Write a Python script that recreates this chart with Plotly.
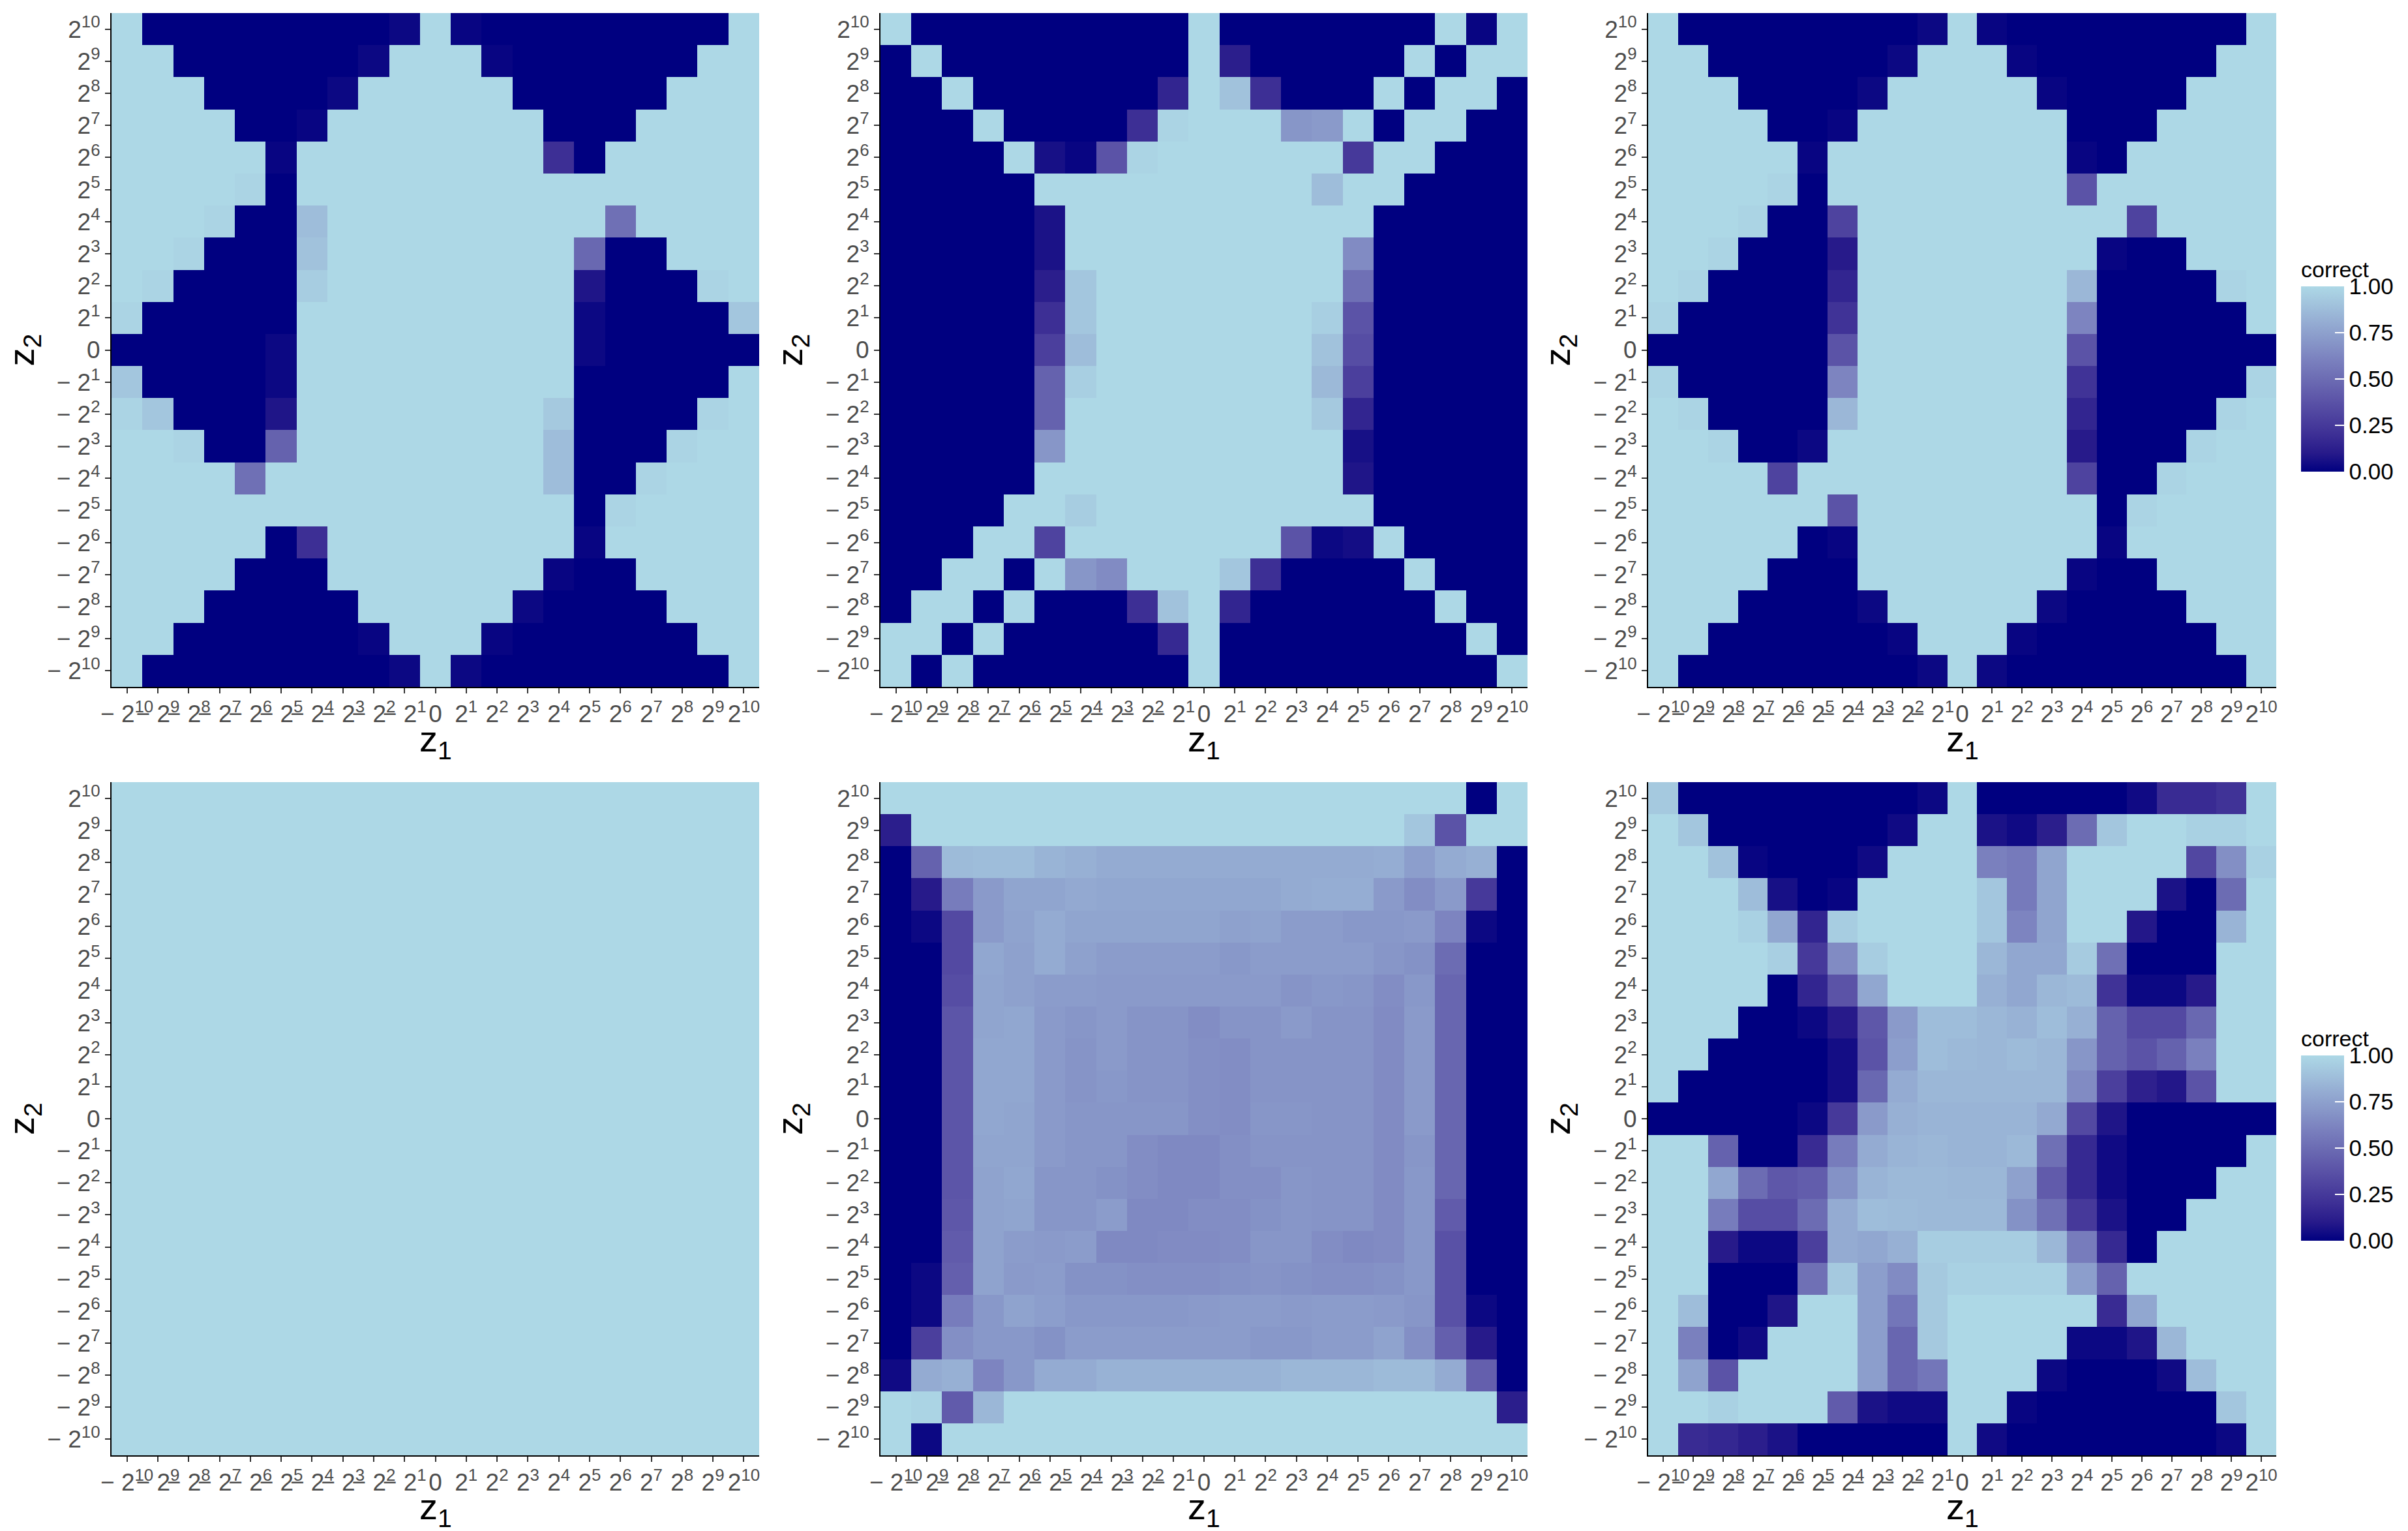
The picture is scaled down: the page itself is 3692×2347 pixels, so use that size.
import plotly.graph_objects as go

# ---------------- data ----------------
z1_index = list(range(-10, 11))          # columns: -2^10 ... 0 ... 2^10
z2_index = list(range(10, -11, -1))      # rows top->bottom: 2^10 ... 0 ... -2^10

def lab(n):
    if n < 0:
        return "\u2212 2<sup>%d</sup>" % (-n)
    if n == 0:
        return "0"
    return "2<sup>%d</sup>" % n

tick_labels = [lab(n) for n in z1_index]

panel_a = [
    [1,0,0,0,0,0,0,0,0,.03,1,.02,0,0,0,0,0,0,0,0,1],
    [1,1,0,0,0,0,0,0,.03,1,1,1,.02,0,0,0,0,0,0,1,1],
    [1,1,1,0,0,0,0,.03,1,1,1,1,1,0,0,0,0,0,1,1,1],
    [1,1,1,1,0,0,.02,1,1,1,1,1,1,1,0,0,0,1,1,1,1],
    [1,1,1,1,1,.02,1,1,1,1,1,1,1,1,.2,0,1,1,1,1,1],
    [1,1,1,1,.98,0,1,1,1,1,1,1,1,1,1,1,1,1,1,1,1],
    [1,1,1,.98,0,0,.88,1,1,1,1,1,1,1,1,1,.52,1,1,1,1],
    [1,1,.98,0,0,0,.9,1,1,1,1,1,1,1,1,.48,0,0,1,1,1],
    [1,.98,0,0,0,0,.95,1,1,1,1,1,1,1,1,.08,0,0,0,.98,1],
    [.98,0,0,0,0,0,1,1,1,1,1,1,1,1,1,.03,0,0,0,0,.92],
    [0,0,0,0,0,.03,1,1,1,1,1,1,1,1,1,.03,0,0,0,0,0],
    [.92,0,0,0,0,.03,1,1,1,1,1,1,1,1,1,0,0,0,0,0,1],
    [.98,.92,0,0,0,.08,1,1,1,1,1,1,1,1,.93,0,0,0,0,.98,1],
    [1,1,.98,0,0,.45,1,1,1,1,1,1,1,1,.88,0,0,0,.98,1,1],
    [1,1,1,1,.52,1,1,1,1,1,1,1,1,1,.88,0,0,.98,1,1,1],
    [1,1,1,1,1,1,1,1,1,1,1,1,1,1,1,0,.98,1,1,1,1],
    [1,1,1,1,1,0,.2,1,1,1,1,1,1,1,1,.02,1,1,1,1,1],
    [1,1,1,1,0,0,0,1,1,1,1,1,1,1,.02,0,0,1,1,1,1],
    [1,1,1,0,0,0,0,0,1,1,1,1,1,.03,0,0,0,0,1,1,1],
    [1,1,0,0,0,0,0,0,.02,1,1,1,.02,0,0,0,0,0,0,1,1],
    [1,0,0,0,0,0,0,0,0,.03,1,.03,0,0,0,0,0,0,0,0,1],
]

panel_b = [
    [1,0,0,0,0,0,0,0,0,0,1,0,0,0,0,0,0,0,1,.02,1],
    [0,1,0,0,0,0,0,0,0,0,1,.12,0,0,0,0,0,1,0,1,1],
    [0,0,1,0,0,0,0,0,0,.15,1,.9,.2,0,0,0,1,0,1,1,0],
    [0,0,0,1,0,0,0,0,.2,.98,1,1,1,.7,.72,1,0,1,1,0,0],
    [0,0,0,0,1,.06,.02,.38,.98,1,1,1,1,1,1,.25,1,1,0,0,0],
    [0,0,0,0,0,1,1,1,1,1,1,1,1,1,.88,1,1,0,0,0,0],
    [0,0,0,0,0,.07,1,1,1,1,1,1,1,1,1,1,0,0,0,0,0],
    [0,0,0,0,0,.07,1,1,1,1,1,1,1,1,1,.65,0,0,0,0,0],
    [0,0,0,0,0,.12,.92,1,1,1,1,1,1,1,1,.52,0,0,0,0,0],
    [0,0,0,0,0,.2,.92,1,1,1,1,1,1,1,.96,.38,0,0,0,0,0],
    [0,0,0,0,0,.28,.88,1,1,1,1,1,1,1,.9,.35,0,0,0,0,0],
    [0,0,0,0,0,.45,.96,1,1,1,1,1,1,1,.86,.28,0,0,0,0,0],
    [0,0,0,0,0,.45,1,1,1,1,1,1,1,1,.93,.15,0,0,0,0,0],
    [0,0,0,0,0,.7,1,1,1,1,1,1,1,1,1,.06,0,0,0,0,0],
    [0,0,0,0,0,1,1,1,1,1,1,1,1,1,1,.08,0,0,0,0,0],
    [0,0,0,0,1,1,.95,1,1,1,1,1,1,1,1,1,0,0,0,0,0],
    [0,0,0,1,1,.3,1,1,1,1,1,1,1,.38,.03,.05,1,0,0,0,0],
    [0,0,1,1,0,1,.7,.65,1,1,1,.92,.2,0,0,0,0,1,0,0,0],
    [0,1,1,0,1,0,0,0,.2,.9,1,.15,0,0,0,0,0,0,1,0,0],
    [1,1,0,1,0,0,0,0,0,.17,1,0,0,0,0,0,0,0,0,1,0],
    [1,0,1,0,0,0,0,0,0,0,1,0,0,0,0,0,0,0,0,0,1],
]

panel_c = [
    [1,0,0,0,0,0,0,0,0,.03,1,.02,0,0,0,0,0,0,0,0,1],
    [1,1,0,0,0,0,0,0,.03,1,1,1,.02,0,0,0,0,0,0,1,1],
    [1,1,1,0,0,0,0,.03,1,1,1,1,1,.02,0,0,0,0,1,1,1],
    [1,1,1,1,0,0,.02,1,1,1,1,1,1,1,0,0,0,1,1,1,1],
    [1,1,1,1,1,.02,1,1,1,1,1,1,1,1,.02,0,1,1,1,1,1],
    [1,1,1,1,.98,0,1,1,1,1,1,1,1,1,.38,1,1,1,1,1,1],
    [1,1,1,.98,0,0,.3,1,1,1,1,1,1,1,1,1,.3,1,1,1,1],
    [1,1,.98,0,0,0,.1,1,1,1,1,1,1,1,1,.02,0,0,1,1,1],
    [1,.98,0,0,0,0,.15,1,1,1,1,1,1,1,.85,0,0,0,0,.98,1],
    [.98,0,0,0,0,0,.22,1,1,1,1,1,1,1,.62,0,0,0,0,0,1],
    [0,0,0,0,0,0,.38,1,1,1,1,1,1,1,.38,0,0,0,0,0,0],
    [.98,0,0,0,0,0,.62,1,1,1,1,1,1,1,.22,0,0,0,0,0,.98],
    [1,.98,0,0,0,0,.85,1,1,1,1,1,1,1,.15,0,0,0,0,.98,1],
    [1,1,.98,0,0,.03,1,1,1,1,1,1,1,1,.1,0,0,0,.98,1,1],
    [1,1,1,1,.3,1,1,1,1,1,1,1,1,1,.3,0,0,.98,1,1,1],
    [1,1,1,1,1,1,.38,1,1,1,1,1,1,1,1,0,.98,1,1,1,1],
    [1,1,1,1,1,0,.02,1,1,1,1,1,1,1,1,.02,1,1,1,1,1],
    [1,1,1,1,0,0,0,1,1,1,1,1,1,1,.02,0,0,1,1,1,1],
    [1,1,1,0,0,0,0,.03,1,1,1,1,1,.03,0,0,0,0,1,1,1],
    [1,1,0,0,0,0,0,0,.02,1,1,1,.02,0,0,0,0,0,0,1,1],
    [1,0,0,0,0,0,0,0,0,.03,1,.03,0,0,0,0,0,0,0,0,1],
]

row_all_correct = [1,1,1,1,1,1,1,1,1,1,1,1,1,1,1,1,1,1,1,1,1]
panel_d = [row_all_correct for _ in z2_index]

panel_e = [
    [1,1,1,1,1,1,1,1,1,1,1,1,1,1,1,1,1,1,1,0,1],
    [.12,1,1,1,1,1,1,1,1,1,1,1,1,1,1,1,1,.92,.38,1,1],
    [0,.45,.87,.88,.88,.84,.82,.8,.8,.8,.8,.8,.8,.8,.8,.8,.81,.74,.8,.82,0],
    [0,.1,.58,.72,.77,.77,.79,.78,.78,.78,.78,.78,.78,.8,.81,.81,.72,.66,.72,.25,0],
    [0,.03,.33,.72,.76,.8,.77,.77,.77,.77,.77,.75,.76,.73,.73,.71,.71,.72,.62,.03,0],
    [0,0,.33,.78,.75,.8,.75,.73,.73,.73,.73,.71,.73,.73,.73,.73,.7,.68,.5,0,0],
    [0,0,.35,.77,.75,.73,.73,.72,.72,.72,.72,.72,.72,.69,.71,.7,.66,.71,.47,0,0],
    [0,0,.39,.77,.78,.72,.7,.72,.69,.69,.66,.69,.69,.72,.69,.69,.65,.72,.47,0,0],
    [0,0,.39,.78,.78,.72,.69,.72,.69,.69,.67,.66,.69,.69,.69,.69,.65,.72,.47,0,0],
    [0,0,.39,.78,.78,.72,.69,.71,.69,.69,.67,.66,.69,.69,.69,.69,.65,.72,.47,0,0],
    [0,0,.39,.78,.77,.72,.7,.7,.7,.7,.67,.66,.7,.7,.69,.69,.65,.72,.47,0,0],
    [0,0,.39,.77,.77,.72,.7,.7,.66,.64,.64,.67,.69,.69,.69,.69,.65,.7,.47,0,0],
    [0,0,.39,.76,.78,.7,.7,.68,.66,.64,.64,.67,.67,.7,.69,.69,.65,.71,.47,0,0],
    [0,0,.4,.76,.77,.7,.7,.73,.64,.64,.66,.66,.68,.7,.69,.69,.65,.71,.42,0,0],
    [0,0,.42,.76,.73,.72,.73,.64,.64,.65,.65,.66,.7,.7,.66,.64,.65,.71,.37,0,0],
    [0,.03,.44,.76,.72,.73,.68,.68,.67,.67,.67,.68,.69,.68,.67,.67,.68,.71,.37,0,0],
    [0,.03,.58,.71,.76,.74,.71,.71,.71,.71,.72,.73,.73,.72,.73,.73,.72,.7,.37,.03,0],
    [0,.28,.67,.71,.71,.68,.73,.73,.73,.73,.73,.73,.71,.71,.73,.73,.76,.67,.44,.1,0],
    [.04,.8,.82,.62,.71,.8,.8,.83,.83,.83,.83,.83,.83,.85,.85,.85,.87,.87,.8,.44,0],
    [1,.98,.42,.85,1,1,1,1,1,1,1,1,1,1,1,1,1,1,1,1,.12],
    [1,.03,1,1,1,1,1,1,1,1,1,1,1,1,1,1,1,1,1,1,1],
]

panel_f = [
    [.93,0,0,0,0,0,0,0,0,.03,1,0,0,0,0,0,.04,.18,.18,.22,1],
    [1,.92,0,0,0,0,0,0,.04,1,1,.07,.04,.12,.5,.92,1,1,.97,.97,1],
    [1,1,.9,.02,0,0,0,.04,1,1,1,.6,.57,.77,1,1,1,1,.32,.67,.97],
    [1,1,1,.88,.06,0,.02,1,1,1,1,.92,.57,.77,1,1,1,.07,0,.5,1],
    [1,1,1,.97,.78,.15,.95,1,1,1,1,.92,.62,.77,1,1,.09,0,0,.84,1],
    [1,1,1,1,.96,.25,.65,.95,1,1,1,.85,.78,.78,.94,.52,0,0,0,1,1],
    [1,1,1,1,0,.15,.38,.78,1,1,1,.82,.78,.85,.87,.22,.03,.03,.1,1,1],
    [1,1,1,0,0,.03,.1,.4,.72,.88,.88,.85,.83,.88,.82,.45,.33,.33,.48,1,1],
    [1,1,0,0,0,0,.05,.38,.74,.88,.86,.85,.87,.85,.7,.45,.38,.45,.6,1,1],
    [1,0,0,0,0,0,.05,.48,.8,.85,.85,.85,.85,.85,.65,.28,.13,.09,.38,1,1],
    [0,0,0,0,0,.03,.25,.72,.82,.84,.84,.84,.84,.79,.33,.08,0,0,0,0,0],
    [1,1,.45,0,0,.18,.58,.8,.84,.85,.84,.84,.86,.52,.17,.04,0,0,0,0,1],
    [1,1,.78,.5,.4,.43,.68,.84,.86,.86,.85,.85,.75,.42,.17,.04,0,0,0,1,1],
    [1,1,.58,.35,.35,.5,.8,.88,.87,.86,.86,.86,.68,.52,.25,.07,0,0,1,1,1],
    [1,1,.1,.03,.03,.28,.8,.78,.82,.95,.95,.95,.95,.85,.58,.17,0,1,1,1,1],
    [1,1,0,0,0,.52,.93,.74,.65,.93,.97,.97,.97,.97,.74,.45,1,1,1,1,1],
    [1,.88,0,0,.08,1,1,.74,.55,.93,1,1,1,1,1,.18,.78,1,1,1,1],
    [1,.6,0,.04,1,1,1,.74,.47,.93,1,1,1,1,.03,.03,.08,.85,1,1,1],
    [1,.76,.38,1,1,1,1,.74,.47,.55,1,1,1,.03,0,0,0,.04,.88,1,1],
    [1,1,.97,1,1,1,.42,.07,.04,.04,1,1,.02,0,0,0,0,0,0,.92,1],
    [1,.18,.16,.12,.07,0,0,0,0,0,1,.04,0,0,0,0,0,0,0,.03,1],
]

legend_ticks = [0, 0.25, 0.5, 0.75, 1]
legend_ticktext = ["0.00", "0.25", "0.50", "0.75", "1.00"]

# ---------------- colour scale (navy -> lightblue, interpolated in Lab like ggplot) ----------------
def _lin(c):
    c = c / 255.0
    return c / 12.92 if c <= 0.04045 else ((c + 0.055) / 1.055) ** 2.4

def _gam(c):
    c = 12.92 * c if c <= 0.0031308 else 1.055 * c ** (1 / 2.4) - 0.055
    return max(0, min(255, round(c * 255)))

WX, WY, WZ = 0.95047, 1.0, 1.08883

def _f(t):
    return t ** (1 / 3) if t > 0.008856 else 7.787 * t + 16 / 116

def _finv(t):
    return t ** 3 if t ** 3 > 0.008856 else (t - 16 / 116) / 7.787

def rgb2lab(rgb):
    r, g, b = (_lin(v) for v in rgb)
    X = 0.4124 * r + 0.3576 * g + 0.1805 * b
    Y = 0.2126 * r + 0.7152 * g + 0.0722 * b
    Z = 0.0193 * r + 0.1192 * g + 0.9505 * b
    fx, fy, fz = _f(X / WX), _f(Y / WY), _f(Z / WZ)
    return (116 * fy - 16, 500 * (fx - fy), 200 * (fy - fz))

def lab2rgb(L, a, b):
    fy = (L + 16) / 116
    fx = fy + a / 500
    fz = fy - b / 200
    X, Y, Z = WX * _finv(fx), WY * _finv(fy), WZ * _finv(fz)
    r = 3.2406 * X - 1.5372 * Y - 0.4986 * Z
    g = -0.9689 * X + 1.8758 * Y + 0.0415 * Z
    bb = 0.0557 * X - 0.2040 * Y + 1.0570 * Z
    return "rgb(%d,%d,%d)" % (_gam(max(r, 0)), _gam(max(g, 0)), _gam(max(bb, 0)))

low = rgb2lab((0, 0, 128))
high = rgb2lab((173, 216, 230))
colorscale = []
for k in range(11):
    t = k / 10
    colorscale.append([t, lab2rgb(*[lo + (hi - lo) * t for lo, hi in zip(low, high)])])

# ---------------- layout geometry ----------------
W, H = 3692, 2347
col_dom = [(163 / W, 1156 / W), (1342 / W, 2334 / W), (2519 / W, 3482 / W)]
row_dom = [(1 - 1045 / H, 1 - 12 / H), (1 - 2223 / H, 1 - 1191 / H)]
FONT = "Liberation Sans, Arial, Helvetica, sans-serif"

panels = [panel_a, panel_b, panel_c, panel_d, panel_e, panel_f]

fig = go.Figure()
layout = dict(
    width=W, height=H,
    margin=dict(l=0, r=0, t=0, b=0, autoexpand=False),
    paper_bgcolor="white", plot_bgcolor="white",
    font=dict(family=FONT),
    showlegend=False,
)

annotations = []
for p, data in enumerate(panels):
    r, c = divmod(p, 3)
    n = p + 1
    xa = "x" if n == 1 else "x%d" % n
    ya = "y" if n == 1 else "y%d" % n
    show = (c == 2)
    cb = None
    if show:
        bar_top, bar_bot = (388, 715) if r == 0 else (1567, 1894)
        cb = dict(
            x=3520 / W, xanchor="left", xpad=0,
            y=1 - (bar_top + bar_bot) / 2 / H, yanchor="middle", ypad=0,
            lenmode="pixels", len=bar_bot - bar_top,
            thickness=66, outlinewidth=0,
            tickvals=legend_ticks, ticktext=legend_ticktext,
            ticks="inside", ticklen=14, tickcolor="white", tickwidth=2,
            tickfont=dict(size=35, color="black", family=FONT),
            title=dict(text="correct", side="top",
                       font=dict(size=34, color="black", family=FONT)),
        )
    fig.add_trace(go.Heatmap(
        z=data, x=z1_index, y=z2_index,
        zmin=0, zmax=1, colorscale=colorscale,
        showscale=show, colorbar=cb,
        xaxis=xa, yaxis=ya,
        hovertemplate="z1=%{x}<br>z2=%{y}<br>correct=%{z}<extra></extra>",
    ))
    axis_common = dict(
        range=[-10.5, 10.5], tickmode="array", tickvals=z1_index, ticktext=tick_labels,
        tickangle=0, ticks="outside", ticklen=8, tickwidth=2, tickcolor="#333333",
        showline=True, linecolor="black", linewidth=2,
        showgrid=False, zeroline=False, fixedrange=True, automargin=False,
        tickfont=dict(size=37, color="#4d4d4d", family=FONT),
    )
    layout["xaxis" if n == 1 else "xaxis%d" % n] = dict(
        axis_common, domain=list(col_dom[c]), anchor=ya)
    layout["yaxis" if n == 1 else "yaxis%d" % n] = dict(
        axis_common, domain=list(row_dom[r]), anchor=xa)

    # axis titles
    x0, x1 = col_dom[c]
    y0, y1 = row_dom[r]
    xt_y = 1128 if r == 0 else 2305
    annotations.append(dict(
        text="z<sub>1</sub>", x=(x0 + x1) / 2, y=1 - xt_y / H,
        xref="paper", yref="paper", showarrow=False,
        xanchor="center", yanchor="middle",
        font=dict(size=56, color="black", family=FONT)))
    yt_x = [28, 1206, 2383][c]
    annotations.append(dict(
        text="z<sub>2</sub>", x=yt_x / W, y=(y0 + y1) / 2,
        xref="paper", yref="paper", showarrow=False, textangle=-90,
        xanchor="center", yanchor="middle",
        font=dict(size=56, color="black", family=FONT)))

layout["annotations"] = annotations
fig.update_layout(**layout)
fig.write_html("out.html")
